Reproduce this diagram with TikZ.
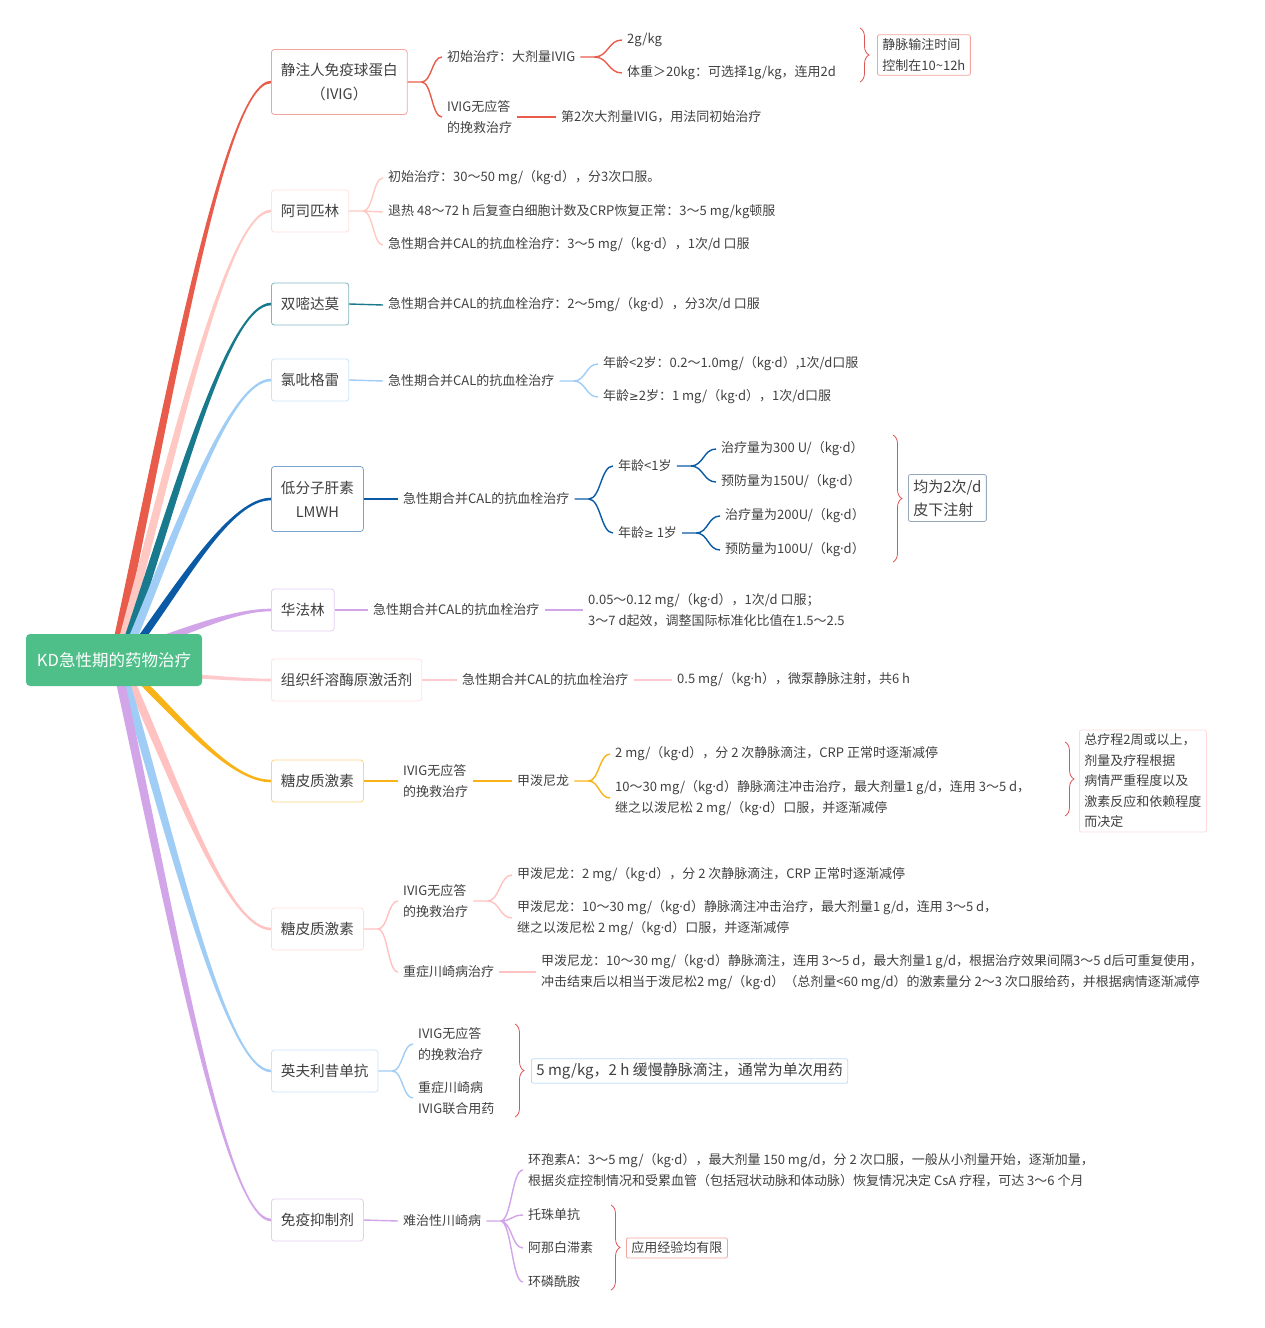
\documentclass[tikz,border=0pt]{standalone}
\usepackage{fontspec}
\setmainfont{Noto Sans CJK SC}
\newfontfamily\latinfont{Noto Sans}
\newfontfamily\symfont{DejaVu Sans}
\usetikzlibrary{calc,backgrounds,decorations.pathreplacing}

\definecolor{ink}{HTML}{404040}
\definecolor{rootgreen}{HTML}{4FBF8A}
\definecolor{braceRed}{HTML}{DC5454}
\definecolor{cIvig}{HTML}{E95C4B}
\definecolor{cAsp}{HTML}{FFC8C2}
\definecolor{cDip}{HTML}{187A8C}
\definecolor{cClo}{HTML}{9FCDF6}
\definecolor{cLmwh}{HTML}{0A5AA6}
\definecolor{cWar}{HTML}{D2A4E8}
\definecolor{cTpa}{HTML}{FFCACD}
\definecolor{cGluA}{HTML}{F8B318}
\definecolor{cGluB}{HTML}{FFC2C0}
\definecolor{cInf}{HTML}{9FCDF6}
\definecolor{cImm}{HTML}{D2A4E8}

\newcommand\mdot{{\latinfont ·}}
\newcommand\gesym{{\symfont\fontsize{11.5}{21}\selectfont ≥}}

% tapered main branch: colour, root point, target node, end side (1/-1), start half width x/y
\newcommand\limb[6]{%
  \fill[#1] let \p1=(#2), \p2=(#3.west),
      \p3=({\x1+0.35*(\x2-\x1)},{\y1+0.45*(\y2-\y1)}),
      \p4=({\x2-0.3*(\x2-\x1)},\y2) in
    ({\x1-#5},{\y1-#6}) .. controls ({\x3-#5},{\y3-#6}) and (\x4,{\y4+#4*1.3pt}) .. (\x2,{\y2+#4*1.3pt})
    -- (\x2,{\y2-#4*1.3pt}) .. controls (\x4,{\y4-#4*1.3pt}) and ({\x3+#5},{\y3+#6}) .. ({\x1+#5},{\y1+#6}) -- cycle;}

\begin{document}
\begin{tikzpicture}[x=1pt,y=-1pt,
    root/.style={fill=rootgreen,text=white,rounded corners=4pt,minimum width=176,minimum height=52,
      font=\fontsize{16.5}{20}\selectfont},
    topic/.style={draw=#1!55,fill=white,rounded corners=3pt,line width=0.8pt,anchor=west,
      minimum height=42,inner xsep=9.5pt,align=center,text=ink,font=\fontsize{14.6}{24}\selectfont},
    leaf/.style={anchor=west,inner xsep=5pt,inner ysep=1pt,align=left,text=ink,
      font=\fontsize{13}{21}\selectfont},
    note/.style={draw=#1,fill=white,rounded corners=2pt,line width=0.8pt,anchor=west,inner xsep=5pt,
      inner ysep=4pt,align=left,text=ink,font=\fontsize{13}{20.5}\selectfont},
    link/.style={draw=#1,line width=1.4pt},
    forkto/.style={to path={.. controls ($(\tikztostart)!0.5!(\tikztostart -| \tikztotarget)$)
      and ($(\tikztotarget)!0.5!(\tikztotarget -| \tikztostart)$) .. (\tikztotarget)}},
    sumbrace/.style={draw=braceRed,line width=0.8pt,decorate,decoration={brace,amplitude=9pt}}]
  \useasboundingbox (0,0) rectangle (1264,1328);

  \node[root] (kd) at (114,660) {KD急性期的药物治疗};

  % main topics
  \node[topic=cIvig,minimum height=65] (ivig) at (271,82) {静注人免疫球蛋白\\（IVIG）};
  \node[topic=cAsp] (asp) at (271,211) {阿司匹林};
  \node[topic=cDip] (dip) at (271,304) {双嘧达莫};
  \node[topic=cClo] (clo) at (271,380) {氯吡格雷};
  \node[topic=cLmwh,minimum height=65] (lmwh) at (271,499) {低分子肝素\\LMWH};
  \node[topic=cWar] (war) at (271,610) {华法林};
  \node[topic=cTpa] (tpa) at (271,680) {组织纤溶酶原激活剂};
  \node[topic=cGluA] (gluA) at (271,781) {糖皮质激素};
  \node[topic=cGluB] (gluB) at (271,929) {糖皮质激素};
  \node[topic=cInf] (inf) at (271,1071) {英夫利昔单抗};
  \node[topic=cImm] (imm) at (271,1220) {免疫抑制剂};

  \begin{scope}[on background layer]
    \limb{cIvig}{118,640}{ivig}{1}{4.5pt}{0pt}
    \limb{cAsp}{123,640}{asp}{1}{4.5pt}{0pt}
    \limb{cDip}{128,640}{dip}{1}{4.5pt}{0pt}
    \limb{cClo}{132,640}{clo}{1}{4.5pt}{0pt}
    \limb{cLmwh}{140,640}{lmwh}{1}{4.5pt}{0pt}
    \limb{cWar}{160,640}{war}{1}{1pt}{-3.5pt}
    \limb{cTpa}{190,676}{tpa}{1}{0pt}{-2pt}
    \limb{cGluA}{140,680}{gluA}{-1}{4.5pt}{0pt}
    \limb{cGluB}{130,680}{gluB}{-1}{4.5pt}{0pt}
    \limb{cInf}{125,680}{inf}{-1}{4.5pt}{0pt}
    \limb{cImm}{120,680}{imm}{-1}{4.5pt}{0pt}
  \end{scope}

  % IVIG
  \node[leaf] (ivigA) at (442,57) {初始治疗：大剂量IVIG};
  \node[leaf] (ivigB) at (442,117) {IVIG无应答\\的挽救治疗};
  \node[leaf] (ivigA1) at (622,40) {2g/kg};
  \node[leaf] (ivigA2) at (622,73) {体重＞20kg：可选择1g/kg，连用2d};
  \node[leaf] (ivigB1) at (556,117) {第2次大剂量IVIG，用法同初始治疗};
  \node[note=cIvig!55] (ivigN) at (877,55) {静脉输注时间\\控制在10\textasciitilde12h};
  \draw[link=cIvig] (ivig.east) -- ++(14,0) coordinate (ivigF)
    (ivigF) to[forkto] (ivigA.west) (ivigF) to[forkto] (ivigB.west);
  \draw[link=cIvig] (ivigA.east) -- ++(14,0) coordinate (ivigAF)
    (ivigAF) to[forkto] (ivigA1.west) (ivigAF) to[forkto] (ivigA2.west);
  \draw[link=cIvig] (ivigB.east) -- (ivigB1.west);
  \draw[sumbrace] (860,28) -- (860,82);

  % aspirin
  \node[leaf] (aspA) at (383,178) {初始治疗：30～50 mg/（kg\mdot d），分3次口服。};
  \node[leaf] (aspB) at (383,212) {退热 48～72 h 后复查白细胞计数及CRP恢复正常：3～5 mg/kg顿服};
  \node[leaf] (aspC) at (383,245) {急性期合并CAL的抗血栓治疗：3～5 mg/（kg\mdot d），1次/d 口服};
  \draw[link=cAsp] (asp.east) -- ++(14,0) coordinate (aspF)
    (aspF) to[forkto] (aspA.west) (aspF) -- (aspB.west) (aspF) to[forkto] (aspC.west);

  % dipyridamole
  \node[leaf] (dipA) at (383,305) {急性期合并CAL的抗血栓治疗：2～5mg/（kg\mdot d），分3次/d 口服};
  \draw[link=cDip] (dip.east) -- (dipA.west);

  % clopidogrel
  \node[leaf] (cloA) at (383,381) {急性期合并CAL的抗血栓治疗};
  \node[leaf] (cloA1) at (598,364) {年龄<2岁：0.2～1.0mg/（kg\mdot d）,1次/d口服};
  \node[leaf] (cloA2) at (598,397) {年龄\gesym 2岁：1 mg/（kg\mdot d），1次/d口服};
  \draw[link=cClo] (clo.east) -- (cloA.west);
  \draw[link=cClo] (cloA.east) -- ++(14,0) coordinate (cloF)
    (cloF) to[forkto] (cloA1.west) (cloF) to[forkto] (cloA2.west);

  % LMWH
  \node[leaf] (lmwhA) at (398,499) {急性期合并CAL的抗血栓治疗};
  \node[leaf] (lmwhY) at (613,466) {年龄<1岁};
  \node[leaf] (lmwhO) at (613,533) {年龄\gesym{} 1岁};
  \node[leaf] (lmwhY1) at (716,449) {治疗量为300 U/（kg\mdot d）};
  \node[leaf] (lmwhY2) at (716,482) {预防量为150U/（kg\mdot d）};
  \node[leaf] (lmwhO1) at (720,516) {治疗量为200U/（kg\mdot d）};
  \node[leaf] (lmwhO2) at (720,550) {预防量为100U/（kg\mdot d）};
  \node[note=cLmwh!40!gray!60,font=\fontsize{15}{23}\selectfont,inner ysep=5pt] (lmwhN) at (908,498)
    {均为2次/d\\皮下注射};
  \draw[link=cLmwh] (lmwh.east) -- (lmwhA.west);
  \draw[link=cLmwh] (lmwhA.east) -- ++(14,0) coordinate (lmwhF)
    (lmwhF) to[forkto] (lmwhY.west) (lmwhF) to[forkto] (lmwhO.west);
  \draw[link=cLmwh] (lmwhY.east) -- ++(14,0) coordinate (lmwhYF)
    (lmwhYF) to[forkto] (lmwhY1.west) (lmwhYF) to[forkto] (lmwhY2.west);
  \draw[link=cLmwh] (lmwhO.east) -- ++(14,0) coordinate (lmwhOF)
    (lmwhOF) to[forkto] (lmwhO1.west) (lmwhOF) to[forkto] (lmwhO2.west);
  \draw[sumbrace] (893,435) -- (893,562);

  % warfarin
  \node[leaf] (warA) at (368,610) {急性期合并CAL的抗血栓治疗};
  \node[leaf] (warA1) at (583,610) {0.05～0.12 mg/（kg\mdot d），1次/d 口服；\\3～7 d起效，调整国际标准化比值在1.5～2.5};
  \draw[link=cWar] (war.east) -- (warA.west);
  \draw[link=cWar] (warA.east) -- (warA1.west);

  % tPA
  \node[leaf] (tpaA) at (457,680) {急性期合并CAL的抗血栓治疗};
  \node[leaf] (tpaA1) at (672,680) {0.5 mg/（kg\mdot h），微泵静脉注射，共6 h};
  \draw[link=cTpa] (tpa.east) -- (tpaA.west);
  \draw[link=cTpa] (tpaA.east) -- (tpaA1.west);

  % glucocorticoid, IVIG non-response
  \node[leaf] (gluAA) at (398,781) {IVIG无应答\\的挽救治疗};
  \node[leaf] (gluAM) at (512,781) {甲泼尼龙};
  \node[leaf] (gluAM1) at (610,754) {2 mg/（kg\mdot d），分 2 次静脉滴注，CRP 正常时逐渐减停};
  \node[leaf] (gluAM2) at (610,798) {10～30 mg/（kg\mdot d）静脉滴注冲击治疗，最大剂量1 g/d，连用 3～5 d，\\继之以泼尼松 2 mg/（kg\mdot d）口服，并逐渐减停};
  \node[note=cGluB!60] (gluAN) at (1079,781)
    {总疗程2周或以上，\\剂量及疗程根据\\病情严重程度以及\\激素反应和依赖程度\\而决定};
  \draw[link=cGluA] (gluA.east) -- (gluAA.west);
  \draw[link=cGluA] (gluAA.east) -- (gluAM.west);
  \draw[link=cGluA] (gluAM.east) -- ++(14,0) coordinate (gluAF)
    (gluAF) to[forkto] (gluAM1.west) (gluAF) to[forkto] (gluAM2.west);
  \draw[sumbrace] (1065,742) -- (1065,816);

  % glucocorticoid, second branch
  \node[leaf] (gluBA) at (398,901) {IVIG无应答\\的挽救治疗};
  \node[leaf] (gluBB) at (398,972) {重症川崎病治疗};
  \node[leaf] (gluBA1) at (512,875) {甲泼尼龙：2 mg/（kg\mdot d），分 2 次静脉滴注，CRP 正常时逐渐减停};
  \node[leaf] (gluBA2) at (512,918) {甲泼尼龙：10～30 mg/（kg\mdot d）静脉滴注冲击治疗，最大剂量1 g/d，连用 3～5 d，\\继之以泼尼松 2 mg/（kg\mdot d）口服，并逐渐减停};
  \node[leaf] (gluBB1) at (536,972) {甲泼尼龙：10～30 mg/（kg\mdot d）静脉滴注，连用 3～5 d，最大剂量1 g/d，根据治疗效果间隔3～5 d后可重复使用，\\冲击结束后以相当于泼尼松2 mg/（kg\mdot d）（总剂量<60 mg/d）的激素量分 2～3 次口服给药，并根据病情逐渐减停};
  \draw[link=cGluB] (gluB.east) -- ++(14,0) coordinate (gluBF)
    (gluBF) to[forkto] (gluBA.west) (gluBF) to[forkto] (gluBB.west);
  \draw[link=cGluB] (gluBA.east) -- ++(14,0) coordinate (gluBAF)
    (gluBAF) to[forkto] (gluBA1.west) (gluBAF) to[forkto] (gluBA2.west);
  \draw[link=cGluB] (gluBB.east) -- (gluBB1.west);

  % infliximab
  \node[leaf] (infA) at (413,1044) {IVIG无应答\\的挽救治疗};
  \node[leaf] (infB) at (413,1098) {重症川崎病\\IVIG联合用药};
  \node[note=cInf!70,font=\fontsize{15}{20}\selectfont] (infN) at (531,1071)
    {5 mg/kg，2 h 缓慢静脉滴注，通常为单次用药};
  \draw[link=cInf] (inf.east) -- ++(14,0) coordinate (infF)
    (infF) to[forkto] (infA.west) (infF) to[forkto] (infB.west);
  \draw[sumbrace] (515,1024) -- (515,1117);

  % immunosuppressants
  \node[leaf] (immA) at (398,1221) {难治性川崎病};
  \node[leaf] (immA1) at (523,1170) {环孢素A：3～5 mg/（kg\mdot d），最大剂量 150 mg/d，分 2 次口服，一般从小剂量开始，逐渐加量，\\根据炎症控制情况和受累血管（包括冠状动脉和体动脉）恢复情况决定 CsA 疗程，可达 3～6 个月};
  \node[leaf] (immA2) at (523,1215) {托珠单抗};
  \node[leaf] (immA3) at (523,1248) {阿那白滞素};
  \node[leaf] (immA4) at (523,1282) {环磷酰胺};
  \node[note=cIvig!55] (immN) at (626,1248) {应用经验均有限};
  \draw[link=cImm] (imm.east) -- (immA.west);
  \draw[link=cImm] (immA.east) -- ++(14,0) coordinate (immF)
    (immF) to[forkto] (immA1.west) (immF) to[forkto] (immA2.west)
    (immF) to[forkto] (immA3.west) (immF) to[forkto] (immA4.west);
  \draw[sumbrace] (611,1205) -- (611,1290);
\end{tikzpicture}
\end{document}
